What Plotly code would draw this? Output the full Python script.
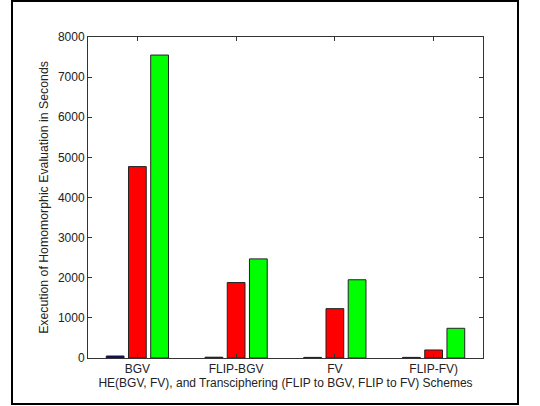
import plotly.graph_objects as go

categories = ["BGV", "FLIP-BGV", "FV", "FLIP-FV)"]
series1 = [50, 20, 15, 15]
series2 = [4770, 1880, 1230, 200]
series3 = [7550, 2470, 1950, 740]
yticks = [0, 1000, 2000, 3000, 4000, 5000, 6000, 7000, 8000]

colors = ["#000080", "#ff0000", "#00ff00"]
offsets = [-0.315, -0.09, 0.135]
xs = list(range(len(categories)))

fig = go.Figure()
for vals, c, off in zip([series1, series2, series3], colors, offsets):
    fig.add_trace(go.Bar(
        x=xs, y=vals, width=0.18, offset=off,
        marker=dict(color=c, line=dict(color="#222222", width=1)),
        showlegend=False, hoverinfo="skip",
    ))

W, H = 540, 406
l, r, t, b = 88, 57, 37, 48
pw, ph = W - l - r, H - t - b

def px(xp):
    return (xp - l) / pw

def py(yp):
    return (H - b - yp) / ph

fig.update_layout(
    width=W, height=H,
    margin=dict(l=l, r=r, t=t, b=b),
    paper_bgcolor="white", plot_bgcolor="white",
    font=dict(family="Liberation Sans, Arial", size=12, color="#222222"),
    barmode="overlay",
    xaxis=dict(
        range=[-0.5, 3.5], tickmode="array", tickvals=xs, ticktext=categories,
        showline=True, linecolor="#333333", linewidth=1, mirror="ticks",
        ticks="inside", ticklen=4, tickcolor="#333333", showgrid=False, zeroline=False,
        title=dict(text="HE(BGV, FV), and Transciphering (FLIP to BGV, FLIP to FV) Schemes",
                   standoff=2, font=dict(size=12)),
    ),
    yaxis=dict(
        range=[0, 8000], tickmode="array", tickvals=yticks,
        showline=True, linecolor="#333333", linewidth=1, mirror="ticks",
        ticks="inside", ticklen=4, tickcolor="#333333", showgrid=False, zeroline=False,
        title=dict(text="Execution of Homomorphic Evaluation in Seconds", standoff=6,
                   font=dict(size=12.3)),
    ),
    shapes=[dict(type="rect", xref="paper", yref="paper",
                 x0=px(12), x1=px(518), y0=py(404), y1=py(1),
                 line=dict(color="black", width=2))],
)

fig.write_html("out.html", config={"displayModeBar": False},
               post_script="document.body.style.margin='0';document.body.style.overflow='hidden';")
